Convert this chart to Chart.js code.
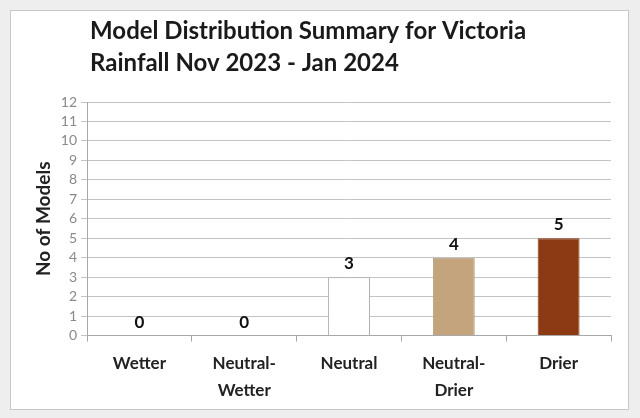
<!DOCTYPE html>
<html>
<head>
<meta charset="utf-8">
<script src="https://cdn.jsdelivr.net/npm/chart.js@4/dist/chart.umd.min.js"></script>
<style>
  html, body { margin: 0; padding: 0; background: #eeeeee; }
  #frame {
    position: absolute; left: 10px; top: 10px; width: 617px; height: 398px;
    background: #ffffff; border: 1px solid #c8c8c8;
  }
  canvas { display: block; }
</style>
</head>
<body>
<div id="frame"><canvas id="chart" width="617" height="398"></canvas></div>
<script>
document.addEventListener("DOMContentLoaded", function () {

    'use strict';

    var categories = [['Wetter'], ['Neutral-', 'Wetter'], ['Neutral'], ['Neutral-', 'Drier'], ['Drier']];
    var models = [0, 0, 3, 4, 5];
    var barColours = ['#ffffff', '#ffffff', '#ffffff', '#c4a47c', '#8b3a14'];
    var borderColours = ['#b0b0b0', '#b0b0b0', '#b0b0b0', '#b0a080', '#8b3a14'];
    var titleLines = ['Model Distribution Summary for Victoria', 'Rainfall Nov 2023 - Jan 2024'];

    var font = 'Lato, "Open Sans", sans-serif';

    // title drawn from the left edge of the plot, like the original
    var titlePlugin = {
        id: 'leftTitle',
        afterDraw: function (chart) {
            var ctx = chart.ctx;
            ctx.save();
            ctx.fillStyle = '#1a1a1a';
            ctx.font = 'bold 24px ' + font;
            ctx.textAlign = 'left';
            ctx.textBaseline = 'middle';
            titleLines.forEach(function (t, i) {
                ctx.fillText(t, chart.chartArea.left + 3, 20 + i * 32);
            });
            ctx.restore();
        }
    };

    var valuePlugin = {
        id: 'values',
        afterDatasetsDraw: function (chart) {
            var ctx = chart.ctx;
            var meta = chart.getDatasetMeta(0);
            ctx.save();
            ctx.fillStyle = '#111111';
            ctx.font = 'bold 17px ' + font;
            ctx.textAlign = 'center';
            ctx.textBaseline = 'bottom';
            meta.data.forEach(function (bar, i) {
                ctx.fillText(String(models[i]), bar.x, bar.y - 5);
            });
            ctx.restore();
        }
    };

    new Chart(document.getElementById('chart'), {
        type: 'bar',
        data: {
            labels: categories,
            datasets: [{
                data: models,
                backgroundColor: barColours,
                borderColor: borderColours,
                borderWidth: 1,
                categoryPercentage: 1,
                barPercentage: 0.4
            }]
        },
        options: {
            responsive: false,
            animation: false,
            layout: { padding: { left: 19, right: 17, top: 91, bottom: -3 } },
            plugins: {
                legend: { display: false },
                tooltip: { enabled: false }
            },
            scales: {
                x: {
                    grid: { drawOnChartArea: false, color: '#a8a8a8', tickLength: 6 },
                    border: { color: '#a8a8a8' },
                    ticks: {
                        color: '#222222',
                        font: { family: font, size: 17, weight: 'bold', lineHeight: 1.6 },
                        maxRotation: 0,
                        padding: 8
                    }
                },
                y: {
                    min: 0,
                    max: 12,
                    ticks: {
                        stepSize: 1,
                        autoSkip: false,
                        color: '#8a8a8a',
                        font: { family: font, size: 14 },
                        padding: 4
                    },
                    grid: { color: '#c4c4c4', tickLength: 6 },
                    border: { color: '#a8a8a8' },
                    title: {
                        display: true,
                        text: 'No of Models',
                        color: '#222222',
                        font: { family: font, size: 19, weight: 'bold' },
                        padding: 2
                    }
                }
            }
        },
        plugins: [titlePlugin, valuePlugin]
    });

});
</script>
</body>
</html>
